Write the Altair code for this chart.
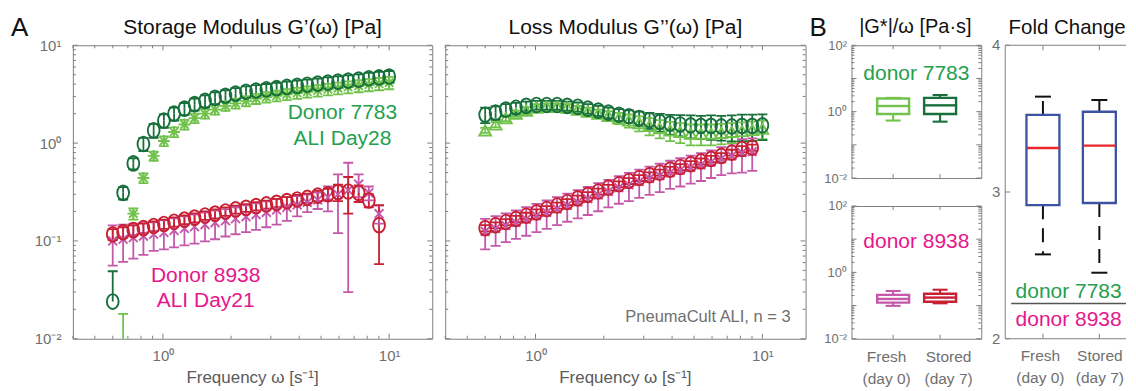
import altair as alt
import pandas as pd

FONT = "Liberation Sans"
FRAME = "#808080"
TICKLBL = "#6f6f6f"
AXTITLE = "#5a5a5a"
BLACK = "#111111"
TXT_GREEN = "#24a04e"
TXT_MAGENTA = "#e6168b"
C_LG = "#70c24b"   # donor 7783 fresh
C_DG = "#17703b"   # donor 7783 stored
C_MG = "#c458aa"   # donor 8938 fresh
C_RD = "#c81f33"   # donor 8938 stored
C_BOX = "#3c52a2"
C_MED = "#e8262b"

# ---------------- data ----------------
series_names = ["7783 fresh", "8938 fresh", "7783 stored", "8938 stored"]
series_colors = [C_LG, C_MG, C_DG, C_RD]

freq = [0.600, 0.667, 0.740, 0.820, 0.910, 1.010, 1.120, 1.245, 1.380, 1.535,
        1.700, 1.890, 2.095, 2.330, 2.580, 2.865, 3.180, 3.530, 3.920, 4.345,
        4.830, 5.360, 5.940, 6.590, 7.330, 8.130, 9.020, 10.00]

# Storage modulus G'
gs_7783_fresh = [None, 0.008, 0.19, 0.44, 0.74, 1.05, 1.30, 1.55, 1.80, 2.00, 2.20, 2.40, 2.55, 2.70,
                 2.85, 2.95, 3.05, 3.15, 3.25, 3.35, 3.45, 3.55, 3.65, 3.75, 3.85, 3.95, 4.05, 4.15]
gs_7783_fresh_sd = [None, 0.010, 0.025, 0.05, 0.08, 0.12, 0.15, 0.18, 0.20, 0.22, 0.25, 0.27, 0.30, 0.32,
                    0.34, 0.36, 0.38, 0.40, 0.42, 0.44, 0.46, 0.48, 0.50, 0.52, 0.54, 0.56, 0.58, 0.60]
gs_7783_stored = [0.024, 0.31, 0.62, 0.98, 1.35, 1.70, 2.00, 2.25, 2.50, 2.70, 2.90, 3.05, 3.20, 3.35,
                  3.45, 3.55, 3.65, 3.75, 3.85, 3.95, 4.05, 4.15, 4.25, 4.35, 4.45, 4.60, 4.70, 4.80]
gs_7783_stored_sd = [0.025, 0.045, 0.08, 0.15, 0.22, 0.27, 0.30, 0.32, 0.35, 0.38, 0.40, 0.42, 0.44, 0.45,
                     0.46, 0.47, 0.48, 0.49, 0.50, 0.50, 0.52, 0.54, 0.56, 0.58, 0.60, 0.62, 0.64, 0.66]
gs_8938_fresh = [0.100, 0.104, 0.108, 0.112, 0.117, 0.122, 0.128, 0.134, 0.140, 0.147, 0.154, 0.161, 0.169, 0.177,
                 0.186, 0.196, 0.207, 0.220, 0.233, 0.247, 0.262, 0.280, 0.300, 0.330, 0.380, 0.310, 0.190, None]
gs_8938_fresh_sd = [0.044, 0.043, 0.042, 0.040, 0.038, 0.040, 0.042, 0.044, 0.046, 0.048, 0.050, 0.050, 0.052, 0.054,
                    0.056, 0.058, 0.060, 0.060, 0.055, 0.050, 0.050, 0.080, 0.180, 0.300, 0.100, 0.050, 0.040, None]
gs_8938_stored = [0.117, 0.123, 0.129, 0.135, 0.142, 0.149, 0.157, 0.165, 0.173, 0.182, 0.190, 0.200, 0.210, 0.218,
                  0.227, 0.236, 0.245, 0.255, 0.265, 0.275, 0.290, 0.300, 0.315, 0.320, 0.310, 0.260, 0.145, None]
gs_8938_stored_sd = [0.015, 0.015, 0.015, 0.015, 0.016, 0.016, 0.017, 0.017, 0.018, 0.018, 0.020, 0.020, 0.020, 0.020,
                     0.022, 0.022, 0.024, 0.025, 0.030, 0.030, 0.035, 0.040, 0.060, 0.130, 0.060, 0.040, 0.087, None]

# Loss modulus G''
gl_7783_fresh = [1.35, 1.55, 1.80, 2.00, 2.15, 2.30, 2.35, 2.35, 2.30, 2.20, 2.10, 2.00, 1.90, 1.80,
                 1.70, 1.60, 1.50, 1.42, 1.35, 1.30, 1.25, 1.25, 1.25, 1.27, 1.30, 1.33, 1.36, 1.40]
gl_7783_fresh_sd = [0.08, 0.10, 0.12, 0.15, 0.18, 0.20, 0.20, 0.20, 0.20, 0.20, 0.20, 0.20, 0.22, 0.24,
                    0.26, 0.28, 0.30, 0.30, 0.30, 0.30, 0.30, 0.30, 0.30, 0.30, 0.30, 0.30, 0.30, 0.30]
gl_7783_stored = [1.95, 2.05, 2.20, 2.30, 2.40, 2.45, 2.45, 2.45, 2.40, 2.35, 2.25, 2.15, 2.05, 1.95,
                  1.88, 1.80, 1.72, 1.65, 1.58, 1.55, 1.52, 1.50, 1.50, 1.48, 1.48, 1.50, 1.50, 1.52]
gl_7783_stored_sd = [0.35, 0.32, 0.30, 0.28, 0.26, 0.25, 0.25, 0.25, 0.25, 0.25, 0.25, 0.25, 0.25, 0.27,
                     0.28, 0.30, 0.32, 0.34, 0.36, 0.38, 0.40, 0.40, 0.42, 0.42, 0.44, 0.45, 0.45, 0.45]
gl_8938_fresh = [0.125, 0.134, 0.144, 0.155, 0.167, 0.181, 0.196, 0.213, 0.231, 0.250, 0.270, 0.295, 0.320, 0.350,
                 0.375, 0.405, 0.435, 0.465, 0.500, 0.530, 0.565, 0.600, 0.640, 0.690, 0.740, 0.800, 0.820, None]
gl_8938_fresh_sd = [0.043, 0.045, 0.047, 0.050, 0.054, 0.058, 0.063, 0.068, 0.074, 0.080, 0.086, 0.094, 0.100, 0.110,
                    0.120, 0.130, 0.140, 0.150, 0.160, 0.170, 0.180, 0.190, 0.200, 0.220, 0.250, 0.300, 0.300, None]
gl_8938_stored = [0.135, 0.145, 0.156, 0.168, 0.181, 0.196, 0.212, 0.230, 0.250, 0.272, 0.296, 0.320, 0.350, 0.380,
                  0.410, 0.440, 0.470, 0.500, 0.535, 0.570, 0.610, 0.650, 0.690, 0.740, 0.800, 0.870, 0.900, None]
gl_8938_stored_sd = [0.010, 0.010, 0.011, 0.012, 0.013, 0.014, 0.015, 0.016, 0.018, 0.019, 0.020, 0.022, 0.024, 0.026,
                     0.028, 0.030, 0.032, 0.035, 0.037, 0.040, 0.043, 0.046, 0.050, 0.050, 0.055, 0.060, 0.065, None]

# Box plots (|G*|/omega and fold change)
box_groups = ["Fresh", "Stored"]
box_sub = ["(day 0)", "(day 7)"]
b7783_lo = [0.54, 0.50]
b7783_q1 = [0.85, 0.85]
b7783_med = [1.48, 1.55]
b7783_q3 = [2.50, 2.60]
b7783_hi = [2.60, 3.16]
b8938_lo = [0.098, 0.117]
b8938_q1 = [0.123, 0.130]
b8938_med = [0.158, 0.174]
b8938_q3 = [0.210, 0.228]
b8938_hi = [0.275, 0.300]
fc_lo = [2.575, 2.45]
fc_q1 = [2.91, 2.925]
fc_med = [3.30, 3.316]
fc_q3 = [3.525, 3.547]
fc_hi = [3.65, 3.627]
fc_divider = [2.24]

# tick positions
DEC_VALUES = [0.01, 0.1, 1, 10, 100]
DEC_LABELS = ["10⁻²", "10⁻¹", "10⁰", "10¹", "10²"]
XMAJ_A = [1, 10]
XMIN_A = [0.4, 0.5, 0.6, 0.7, 0.8, 0.9, 2, 3, 4, 5, 6, 7, 8, 9]
YMAJ = [0.01, 0.1, 1, 10, 100]
YMIN = [0.02, 0.03, 0.04, 0.05, 0.06, 0.07, 0.08, 0.09,
        0.2, 0.3, 0.4, 0.5, 0.6, 0.7, 0.8, 0.9,
        2, 3, 4, 5, 6, 7, 8, 9, 20, 30, 40, 50, 60, 70, 80, 90]
FC_TICKS = [2, 3, 4]

# ---------------- helpers ----------------
ELLIPSE = "M0,-1.25A1,1.25,0,1,1,0,1.25A1,1.25,0,1,1,0,-1.25Z"
ASTER = "M-1,0L1,0M0,-1L0,1M-0.7,-0.7L0.7,0.7M-0.7,0.7L0.7,-0.7"
XMARK = "M-0.75,-0.75L0.75,0.75M-0.75,0.75L0.75,-0.75"

ONE = pd.DataFrame({"k": [0]})

DEC_EXPR = "".join(
    f"datum.value < {v * 3:g} ? '{l}' : " for v, l in zip(DEC_VALUES, DEC_LABELS)
) + "''"
GROUP_EXPR = (f"datum.value < 1.5 ? ['{box_groups[0]}', '{box_sub[0]}'] : "
              f"['{box_groups[1]}', '{box_sub[1]}']")


def long_table(vals, sds):
    rows = []
    for name, vv, ss in zip(series_names, vals, sds):
        for f, v, s in zip(freq, vv, ss):
            if v is None:
                continue
            rows.append({"f": f, "v": v, "sd": s, "s": name})
    return pd.DataFrame(rows)


def txt(text, x, y, size, color, align="center"):
    return alt.Chart(ONE).mark_text(
        text=text, font=FONT, fontSize=size, color=color, align=align, baseline="alphabetic"
    ).encode(x=alt.value(x), y=alt.value(y))


def anchor(x1, x2, y):
    return alt.Chart(ONE).mark_rule(strokeOpacity=0, strokeWidth=1).encode(
        x=alt.value(x1), x2=alt.value(x2), y=alt.value(y))


def spacer(w):
    return alt.Chart(ONE).mark_rule(strokeOpacity=0).encode(
        x=alt.value(0), y=alt.value(0)
    ).properties(width=w, height=10, view=alt.ViewBackground(stroke="transparent"))


def xticks(vals, scale, axis, length, h):
    d = alt.Chart(pd.DataFrame({"t": vals}))
    X = alt.X("t:Q", scale=scale, axis=axis)
    return [d.mark_rule(color=FRAME, strokeWidth=1).encode(x=X, y=alt.value(h), y2=alt.value(h - length)),
            d.mark_rule(color=FRAME, strokeWidth=1).encode(x=X, y=alt.value(0), y2=alt.value(length))]


def yticks(vals, scale, axis, length, w, right=True):
    d = alt.Chart(pd.DataFrame({"t": vals}))
    Y = alt.Y("t:Q", scale=scale, axis=axis)
    out = [d.mark_rule(color=FRAME, strokeWidth=1).encode(y=Y, x=alt.value(0), x2=alt.value(length))]
    if right:
        out.append(d.mark_rule(color=FRAME, strokeWidth=1).encode(y=Y, x=alt.value(w), x2=alt.value(w - length)))
    return out


def dec_axis(values, pad, size):
    return alt.Axis(values=values, labelExpr=DEC_EXPR, title=None, ticks=False, tickSize=0, domain=False,
                    grid=False, labelPadding=pad, labelFontSize=size, labelColor=TICKLBL, labelFont=FONT,
                    labelOverlap=False, labelBound=False, labelFlush=False)


H_A = 294


def panel_A(df, shapes, w, with_ylabels, texts, extra):
    xs = alt.Scale(type="log", domain=[0.4, 15.5])
    ys = alt.Scale(type="log", domain=[0.01, 10])
    XA = dec_axis(XMAJ_A, 10, 15)
    YA = dec_axis(DEC_VALUES[:4], 12, 15) if with_ylabels else None
    C = alt.Color("s:N", scale=alt.Scale(domain=series_names, range=series_colors), legend=None)
    base = alt.Chart(df).transform_calculate(hi="datum.v + datum.sd", lo="datum.v - datum.sd")
    X = alt.X("f:Q", scale=xs, axis=XA)
    lw = 1.8
    up = base.mark_rule(strokeWidth=lw, clip=True).encode(
        x=X, y=alt.Y("v:Q", scale=ys, axis=YA), y2="hi:Q", color=C)
    dn = base.transform_filter("datum.lo > 0").mark_rule(strokeWidth=lw, clip=True).encode(
        x=X, y=alt.Y("lo:Q", scale=ys, axis=YA), y2="v:Q", color=C)
    cu = base.mark_point(shape="stroke", size=100, strokeWidth=lw, filled=False, opacity=1, clip=True).encode(
        x=X, y=alt.Y("hi:Q", scale=ys, axis=YA), color=C)
    cd = base.transform_filter("datum.lo > 0").mark_point(
        shape="stroke", size=100, strokeWidth=lw, filled=False, opacity=1, clip=True).encode(
        x=X, y=alt.Y("lo:Q", scale=ys, axis=YA), color=C)
    mk = base.mark_point(size=140, strokeWidth=1.9, filled=False, opacity=1, clip=True).encode(
        x=X,
        y=alt.Y("v:Q", scale=ys, axis=YA),
        color=C,
        shape=alt.Shape("s:N", scale=alt.Scale(domain=series_names, range=shapes), legend=None),
    )
    layers = (xticks(XMAJ_A, xs, XA, 5, H_A) + xticks(XMIN_A, xs, XA, 3, H_A)
              + yticks(DEC_VALUES[:4], ys, YA, 5, w) + yticks(YMIN[:24], ys, YA, 3, w)
              + [up, dn, cu, cd, mk] + texts + extra)
    return alt.layer(*layers).properties(width=w, height=H_A)


def box_layers(df, xs, ys, XA, YA, stroke_box, stroke_med, stroke_wh, dash, box_w, cap_w, lw):
    base = alt.Chart(df)
    X = alt.X("p:Q", scale=xs, axis=XA)
    wu = base.mark_rule(strokeWidth=lw, strokeDash=dash).encode(
        x=X, y=alt.Y("q3:Q", scale=ys, axis=YA), y2="hi:Q", stroke=stroke_wh)
    wd = base.mark_rule(strokeWidth=lw, strokeDash=dash).encode(
        x=X, y=alt.Y("q1:Q", scale=ys, axis=YA), y2="lo:Q", stroke=stroke_wh)
    cu = base.mark_point(shape="stroke", size=cap_w * cap_w, strokeWidth=lw, filled=False, opacity=1).encode(
        x=X, y=alt.Y("hi:Q", scale=ys, axis=YA), stroke=stroke_wh)
    cd = base.mark_point(shape="stroke", size=cap_w * cap_w, strokeWidth=lw, filled=False, opacity=1).encode(
        x=X, y=alt.Y("lo:Q", scale=ys, axis=YA), stroke=stroke_wh)
    box = base.mark_bar(size=box_w, fillOpacity=0, strokeWidth=lw + 0.3).encode(
        x=X, y=alt.Y("q1:Q", scale=ys, axis=YA), y2="q3:Q", stroke=stroke_box)
    med = base.mark_point(shape="stroke", size=(box_w - 1) ** 2, strokeWidth=lw + 0.3, filled=False,
                          opacity=1).encode(x=X, y=alt.Y("med:Q", scale=ys, axis=YA), stroke=stroke_med)
    return [wu, wd, cu, cd, box, med]


def box_df(lo, q1, med, q3, hi, colors):
    return pd.DataFrame({"p": [1, 2], "g": box_groups, "c": colors,
                         "lo": lo, "q1": q1, "med": med, "q3": q3, "hi": hi})


W_B, H_B = 130, 133


def group_axis(pad, shift_left, shift_right):
    return alt.Axis(values=[1, 2], labelExpr=GROUP_EXPR, title=None, ticks=False, tickSize=0, domain=False,
                    grid=False, labelPadding=pad, labelFontSize=15.5, labelLineHeight=22, labelColor=TICKLBL,
                    labelFont=FONT, labelOverlap=False, labelBound=False, labelFlush=False,
                    labelOffset={"condition": {"test": "datum.value < 1.5", "value": shift_left},
                                 "value": shift_right})


def panel_B(df, show_x, texts):
    xs = alt.Scale(domain=[0.22, 2.77])
    ys = alt.Scale(type="log", domain=[0.01, 100])
    XA = group_axis(11, -7, 8) if show_x else None
    YA = dec_axis([0.01, 1, 100], 5, 13)
    # the colour of each box is stored with its row and used as-is
    S = alt.Stroke("c:N", scale=None)
    layers = (xticks([1, 2], xs, XA, 4, H_B) + yticks(YMAJ, ys, YA, 5, W_B) + yticks(YMIN, ys, YA, 3, W_B)
              + box_layers(df, xs, ys, XA, YA, S, S, S, [1, 0], 32, 15, 2.1) + texts)
    return alt.layer(*layers).properties(width=W_B, height=H_B)


W_F = 121   # the reference frame runs past the right edge of the figure


def panel_FC(df, texts):
    xs = alt.Scale(domain=[0.42, 2.384])
    ys = alt.Scale(domain=[2, 4])
    XA = group_axis(10, -3, 0)
    YA = alt.Axis(values=FC_TICKS, labels=False, title=None, ticks=False, tickSize=0, domain=False,
                  grid=False)
    div = alt.Chart(pd.DataFrame({"d": fc_divider})).mark_rule(color="#555555", strokeWidth=1.5).encode(
        y=alt.Y("d:Q", scale=ys, axis=YA), x=alt.value(6), x2=alt.value(W_F))
    ylab = alt.Chart(pd.DataFrame({"t": FC_TICKS})).mark_text(
        align="right", baseline="middle", dx=-5, font=FONT, fontSize=15, color=TICKLBL
    ).encode(y=alt.Y("t:Q", scale=ys, axis=YA), x=alt.value(0), text=alt.Text("t:Q", format="d"))
    # open frame: left, top and bottom borders (right border lies outside the figure)
    frame = [
        alt.Chart(ONE).mark_rule(color=FRAME, strokeWidth=1).encode(
            x=alt.value(0), y=alt.value(0), y2=alt.value(H_A)),
        alt.Chart(ONE).mark_rule(color=FRAME, strokeWidth=1).encode(
            x=alt.value(0), x2=alt.value(W_F), y=alt.value(0)),
        alt.Chart(ONE).mark_rule(color=FRAME, strokeWidth=1).encode(
            x=alt.value(0), x2=alt.value(W_F), y=alt.value(H_A)),
    ]
    layers = (frame + xticks([1, 2], xs, XA, 5, H_A) + yticks(FC_TICKS, ys, YA, 5, W_F, right=False)
              + box_layers(df, xs, ys, XA, YA, alt.value(C_BOX), alt.value(C_MED), alt.value(BLACK),
                           [14, 9], 33, 16, 2.0)
              + [div, ylab] + texts)
    return alt.layer(*layers).properties(width=W_F, height=H_A,
                                         view=alt.ViewBackground(stroke="transparent"))


# ---------------- panels ----------------
df_storage = long_table([gs_7783_fresh, gs_8938_fresh, gs_7783_stored, gs_8938_stored],
                        [gs_7783_fresh_sd, gs_8938_fresh_sd, gs_7783_stored_sd, gs_8938_stored_sd])
df_loss = long_table([gl_7783_fresh, gl_8938_fresh, gl_7783_stored, gl_8938_stored],
                     [gl_7783_fresh_sd, gl_8938_fresh_sd, gl_7783_stored_sd, gl_8938_stored_sd])

A_left = panel_A(
    df_storage, [ASTER, XMARK, ELLIPSE, ELLIPSE], 360, True,
    [txt("A", -62, -9, 26, BLACK, "left"),
     txt("Storage Modulus G’(ω) [Pa]", 180, -11, 21, BLACK),
     txt("Frequency ω [s⁻¹]", 180, 338, 17, AXTITLE),
     txt("Donor 7783", 270, 74, 21, TXT_GREEN),
     txt("ALI Day28", 270, 100, 21, TXT_GREEN),
     txt("Donor 8938", 133, 237, 21, TXT_MAGENTA),
     txt("ALI Day21", 133, 262, 21, TXT_MAGENTA)],
    [anchor(-64, 300, -36)],
)

A_right = panel_A(
    df_loss, ["triangle-up", XMARK, ELLIPSE, ELLIPSE], 361, False,
    [txt("Loss Modulus G’’(ω) [Pa]", 180.5, -11, 21, BLACK),
     txt("Frequency ω [s⁻¹]", 180.5, 338, 17, AXTITLE),
     txt("PneumaCult ALI, n = 3", 346, 277, 16.5, TICKLBL, "right")],
    [],
)

B_top = panel_B(
    box_df(b7783_lo, b7783_q1, b7783_med, b7783_q3, b7783_hi, [C_LG, C_DG]), False,
    [txt("B", -42, -9, 26, BLACK, "left"),
     txt("|G*|/ω [Pa·s]", 64, -12, 20, BLACK),
     txt("donor 7783", 65, 35, 21, TXT_GREEN)],
)

B_bot = panel_B(
    box_df(b8938_lo, b8938_q1, b8938_med, b8938_q3, b8938_hi, [C_MG, C_RD]), True,
    [txt("donor 8938", 65, 42, 21, TXT_MAGENTA)],
)

FC = panel_FC(
    box_df(fc_lo, fc_q1, fc_med, fc_q3, fc_hi, [C_BOX, C_BOX]),
    [txt("Fold Change", 62, -11, 20.5, BLACK),
     txt("donor 7783", 63.5, 253, 21, TXT_GREEN),
     txt("donor 8938", 63.5, 281, 21, TXT_MAGENTA)],
)

B_col = alt.vconcat(B_top, B_bot, spacing=28, bounds="flush")

chart = alt.hconcat(
    A_left, spacer(13), A_right, spacer(46), B_col, spacer(154), FC,
    spacing=0, bounds="flush"
).resolve_scale(
    shape="independent", color="independent"
).properties(
    padding={"left": 0, "top": 0, "right": 0, "bottom": 0}
).configure_view(stroke=FRAME, strokeWidth=1).configure_text(font=FONT)

chart.save("out.html", embed_options={"renderer": "svg", "actions": False})
